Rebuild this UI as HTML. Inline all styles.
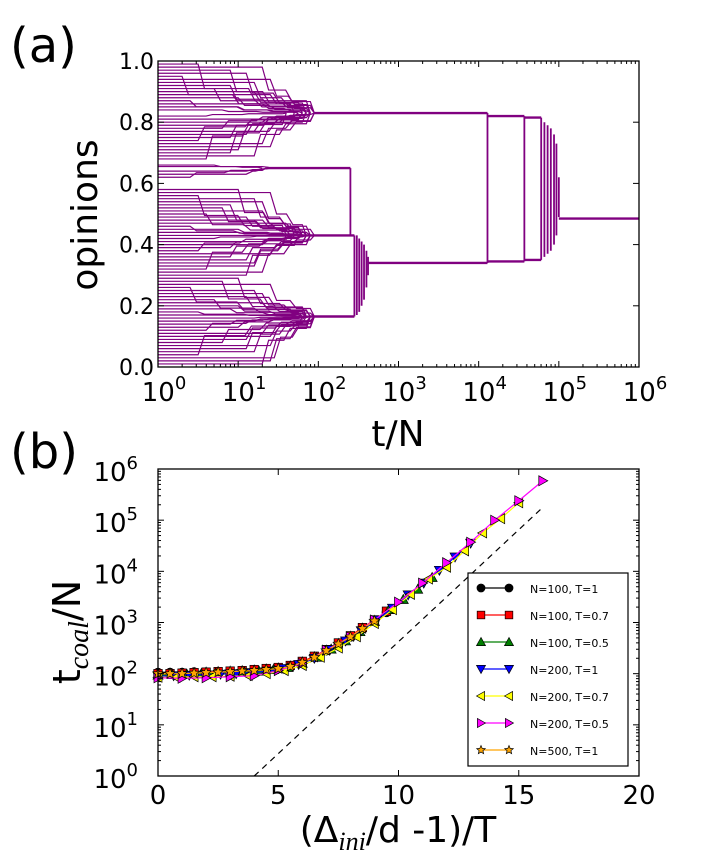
<!DOCTYPE html>
<html><head><meta charset="utf-8"><style>
html,body{margin:0;padding:0;background:#fff}
svg{display:block;font-family:"DejaVu Sans","Liberation Sans",sans-serif}
</style></head><body>
<svg id="fig" width="714" height="862" viewBox="0 0 714 862" xmlns="http://www.w3.org/2000/svg">
<text x="10" y="62" font-size="48">(a)</text>
<text x="10" y="468" font-size="48">(b)</text>
<g id="pa"></g>
<g id="pb"></g>
<text transform="translate(97,215) rotate(-90)" text-anchor="middle" font-size="36">opinions</text>
<text x="398" y="446" text-anchor="middle" font-size="36">t/N</text>
<text transform="translate(80,632) rotate(-90)" text-anchor="middle" font-size="38">t<tspan font-family="Liberation Serif,serif" font-style="italic" font-size="28" dy="8">coal</tspan><tspan dy="-8">/N</tspan></text>
<text x="398" y="842" text-anchor="middle" font-size="36">(Δ<tspan font-family="Liberation Serif,serif" font-style="italic" font-size="26" dy="8">ini</tspan><tspan dy="-8">/d -1)/T</tspan></text>
</svg>
<script>
// ---------- Panel (a) data ----------
const agentStart = [0.99,0.97,0.95,0.93,0.91,0.89,0.87,0.85,0.82,0.80,0.78,0.76,0.74,0.72,0.70,0.68,0.66,0.64,0.62,0.58,0.56,0.54,0.52,0.50,0.48,0.46,0.44,0.42,0.40,0.38,0.36,0.34,0.32,0.30,0.28,0.26,0.24,0.22,0.20,0.18,0.16,0.14,0.12,0.10,0.08,0.06,0.04,0.02,0.01,
  0.98,0.96,0.94,0.92,0.90,0.88,0.86,0.84,0.81,0.79,0.77,0.75,0.73,0.71,0.69,0.655,0.63,0.57,0.55,0.53,0.51,0.49,0.47,0.45,0.43,0.41,0.39,0.37,0.35,0.33,0.31,0.29,0.27,0.25,0.23,0.21,0.19,0.17,0.15,0.13,0.11,0.09,0.07,0.05,0.03,0.005];
const agentCluster = [0.83,0.83,0.83,0.83,0.83,0.83,0.83,0.83,0.83,0.83,0.83,0.83,0.83,0.83,0.83,0.83,0.65,0.65,0.65,0.43,0.43,0.43,0.43,0.43,0.43,0.43,0.43,0.43,0.43,0.43,0.43,0.43,0.43,0.43,0.165,0.165,0.165,0.165,0.165,0.165,0.165,0.165,0.165,0.165,0.165,0.165,0.165,0.165,0.165,
  0.83,0.83,0.83,0.83,0.83,0.83,0.83,0.83,0.83,0.83,0.83,0.83,0.83,0.83,0.83,0.65,0.65,0.43,0.43,0.43,0.43,0.43,0.43,0.43,0.43,0.43,0.43,0.43,0.43,0.43,0.43,0.165,0.165,0.165,0.165,0.165,0.165,0.165,0.165,0.165,0.165,0.165,0.165,0.165,0.165,0.165];
const agentHoldLog = [0.5,0.9,0.3,1.2,0.7,1.4,0.4,1.0,0.6,1.3,0.8,1.1,0.5,1.4,0.9,0.6,0.7,1.1,0.4,1.0,0.5,1.3,0.8,0.6,1.2,0.4,1.0,0.7,1.3,0.5,0.9,1.2,0.6,1.1,0.8,0.4,1.3,0.7,1.0,0.5,1.2,0.9,0.6,1.4,0.8,1.1,0.5,1.4,1.3,
  1.3,1.1,1.4,0.9,1.2,1.0,1.3,0.8,1.4,1.1,1.2,0.9,1.3,1.0,1.2,1.3,1.1,1.4,1.2,0.9,1.3,1.1,1.4,1.0,1.2,1.3,0.9,1.4,1.1,1.2,1.3,1.0,1.4,1.2,1.1,1.3,0.9,1.4,1.2,1.0,1.3,1.1,1.4,1.2,1.45];
const agentJoinLog = [1.9,1.8,1.7,1.95,1.85,1.9,1.7,1.8,1.6,1.9,1.75,1.85,1.8,1.95,1.7,1.6,1.3,1.4,1.35,1.7,1.6,1.8,1.75,1.65,1.8,1.6,1.75,1.7,1.8,1.65,1.7,1.85,1.6,1.75,1.85,1.7,1.9,1.8,1.85,1.75,1.9,1.8,1.7,1.95,1.85,1.9,1.8,1.95,1.9,
  1.95,1.85,1.9,1.8,1.95,1.85,1.9,1.75,1.95,1.85,1.9,1.8,1.95,1.85,1.9,1.4,1.35,1.85,1.9,1.8,1.95,1.85,1.9,1.8,1.95,1.85,1.8,1.95,1.9,1.85,1.9,1.85,1.95,1.9,1.85,1.95,1.8,1.95,1.9,1.85,1.95,1.9,1.95,1.9,1.95];
// cluster segments: [value, startLog, endLog]
const clusterSegs = [[0.83,1.95,4.11],[0.65,1.35,2.4],[0.43,1.75,2.45],[0.165,1.9,2.45],[0.34,2.62,4.11],[0.82,4.11,4.57],[0.345,4.11,4.57],[0.815,4.57,4.78],[0.35,4.57,4.78],[0.485,5.0,6.0]];
// vertical merges: [log t, top, bottom]
const mergeLines = [[2.4,0.65,0.43],[2.45,0.43,0.165],[2.48,0.43,0.17],[2.51,0.42,0.18],[2.54,0.41,0.2],[2.57,0.4,0.22],[2.6,0.38,0.26],[2.62,0.36,0.3],[4.11,0.83,0.34],[4.57,0.82,0.345],[4.78,0.815,0.35],[4.82,0.80,0.36],[4.86,0.79,0.37],[4.9,0.78,0.38],[4.94,0.76,0.4],[4.97,0.73,0.43],[5.0,0.62,0.49]];
const aYTicks = ["0.0","0.2","0.4","0.6","0.8","1.0"];
const aYVals = [0,0.2,0.4,0.6,0.8,1.0];
const aXDecades = [0,1,2,3,4,5,6];

// ---------- Panel (b) data ----------
const seriesNames = ["N=100, T=1","N=100, T=0.7","N=100, T=0.5","N=200, T=1","N=200, T=0.7","N=200, T=0.5","N=500, T=1"];
const seriesColors = ["#000000","#ff0000","#007f00","#0000ff","#ffff00","#ff00ff","#ffa500"];
const seriesMarkers = ["circle","square","tri-up","tri-down","tri-left","tri-right","star"];
const xBlack = [0,0.5,1,1.5,2,2.5,3,3.5,4,4.5,5,5.5,6,6.5,7,7.5,8,8.5,9,9.5];
const yBlack = [2.02,2.02,2.02,2.03,2.03,2.04,2.04,2.05,2.06,2.07,2.1,2.14,2.22,2.32,2.45,2.58,2.72,2.88,3.03,3.2];
const xRed = [0,0.5,1,1.5,2,2.5,3,3.5,4,4.5,5,5.5,6,6.5,7,7.5,8,8.5,9,9.5];
const yRed = [2.0,2.0,2.01,2.02,2.03,2.04,2.05,2.06,2.08,2.1,2.12,2.16,2.24,2.34,2.47,2.6,2.74,2.9,3.05,3.22];
const xGreen = [0,0.6,1.2,1.8,2.4,3,3.6,4.2,4.8,5.4,6,6.6,7.2,7.8,8.4,9,9.6,10.2,10.8,11.4];
const yGreen = [1.97,1.98,1.99,2.0,2.01,2.02,2.03,2.05,2.08,2.12,2.2,2.32,2.48,2.64,2.82,3.02,3.25,3.45,3.65,3.88];
const xBlue = [0,0.65,1.3,1.95,2.6,3.25,3.9,4.55,5.2,5.85,6.5,7.15,7.8,8.45,9.1,9.75,10.4,11.05,11.7,12.35,13];
const yBlue = [1.95,1.96,1.97,1.98,1.99,2.0,2.02,2.05,2.1,2.18,2.3,2.47,2.64,2.84,3.05,3.28,3.54,3.77,4.02,4.28,4.55];
const xYellow = [0,0.75,1.5,2.25,3,3.75,4.5,5.25,6,6.75,7.5,8.25,9,9.75,10.5,11.25,12,12.75,13.5,14.25,15];
const yYellow = [1.93,1.93,1.94,1.94,1.95,1.96,2.0,2.06,2.16,2.32,2.5,2.72,2.98,3.25,3.55,3.85,4.08,4.4,4.75,5.03,5.34];
const xPink = [0,1,2,3,4,5,6,7,8,9,10,11,12,13,14,15,16];
const yPink = [1.92,1.91,1.92,1.94,1.96,2.06,2.2,2.46,2.72,3.05,3.4,3.77,4.17,4.57,5.0,5.38,5.77];
const xOrange = [0,0.5,1,1.5,2,2.5,3,3.5,4,4.5,5,5.5,6,6.5,7,7.5,8,8.5,9];
const yOrange = [2.0,2.0,2.0,2.01,2.02,2.03,2.04,2.05,2.06,2.08,2.1,2.14,2.22,2.32,2.45,2.58,2.72,2.88,3.03];
const dashX = [4,16];
const dashY = [0,5.25];
const bXTicks = [0,5,10,15,20];
const bYDecades = [0,1,2,3,4,5,6];

const NS="http://www.w3.org/2000/svg";
function mk(parent,tag,attrs){const e=document.createElementNS(NS,tag);for(const k in attrs)e.setAttribute(k,attrs[k]);parent.appendChild(e);return e;}

// ---------- Panel (a) ----------
const pa=document.getElementById('pa');
const aL=158,aR=639,aT=61,aB=367;
const ax=l=>aL+(l/6)*(aR-aL);
const ay=v=>aB-v*(aB-aT);
const purple="#800080";
for(let i=0;i<agentStart.length;i++){
  const x0=agentStart[i],c=agentCluster[i],h=agentHoldLog[i],j=agentJoinLog[i];
  const mid=(x0+c)/2, m1=h+(j-h)*0.45;
  const d=`M${ax(0)},${ay(x0)} H${ax(h)} L${ax(h+0.08)},${ay(mid)} H${ax(m1)} L${ax(m1+0.08)},${ay((mid+c)/2)} H${ax(j-0.05)} L${ax(j)},${ay(c)}`;
  const p=mk(pa,'path',{d:d,fill:'none',stroke:purple,'stroke-width':1.2});
  
  
}
clusterSegs.forEach(s=>{
  const l=mk(pa,'line',{x1:ax(s[1]),x2:ax(s[2]),y1:ay(s[0]),y2:ay(s[0]),stroke:purple,'stroke-width':2.4});
  
  
});
mergeLines.forEach(s=>{
  const l=mk(pa,'line',{x1:ax(s[0]),x2:ax(s[0]),y1:ay(s[1]),y2:ay(s[2]),stroke:purple,'stroke-width':1.8});
  
  
});
const fa=mk(pa,'rect',{x:aL,y:aT,width:aR-aL,height:aB-aT,fill:'none',stroke:'#000','stroke-width':1.3});


aYVals.forEach((v,i)=>{
  const y=ay(v);
  mk(pa,'line',{x1:aL,x2:aL+6,y1:y,y2:y,stroke:'#000'});
  mk(pa,'line',{x1:aR,x2:aR-6,y1:y,y2:y,stroke:'#000'});
  const t=mk(pa,'text',{x:aL-4,y:y+8,'text-anchor':'end','font-size':22});
  t.textContent=aYTicks[i];
  
  
});
aXDecades.forEach(d=>{
  const x=ax(d);
  mk(pa,'line',{x1:x,x2:x,y1:aB,y2:aB-6,stroke:'#000'});
  mk(pa,'line',{x1:x,x2:x,y1:aT,y2:aT+6,stroke:'#000'});
  if(d<6){for(let k=2;k<10;k++){const xm=ax(d+Math.log10(k));
    mk(pa,'line',{x1:xm,x2:xm,y1:aB,y2:aB-3,stroke:'#000'});
    mk(pa,'line',{x1:xm,x2:xm,y1:aT,y2:aT+3,stroke:'#000'});}}
  const t=mk(pa,'text',{x:x+6,y:aB+34,'text-anchor':'middle','font-size':26});
  t.innerHTML=`10<tspan font-size="18" dy="-12">${d}</tspan>`;
  
  
});

// ---------- Panel (b) ----------
const pb=document.getElementById('pb');
const bL=158,bR=639,bT=469,bB=776;
const bx=v=>bL+(v/20)*(bR-bL);
const by=l=>bB-(l/6)*(bB-bT);
const dl=mk(pb,'line',{x1:bx(dashX[0]),y1:by(dashY[0]),x2:bx(dashX[1]),y2:by(dashY[1]),stroke:'#000','stroke-dasharray':'6,5','stroke-width':1.2});


function marker(g,type,x,y,col,s){
  let e;
  if(type==='circle')e=mk(g,'circle',{cx:x,cy:y,r:s*0.9});
  else if(type==='square')e=mk(g,'rect',{x:x-s*0.85,y:y-s*0.85,width:s*1.7,height:s*1.7});
  else{
    let pts;
    if(type==='tri-up')pts=[[0,-1],[-1,0.8],[1,0.8]];
    else if(type==='tri-down')pts=[[0,1],[-1,-0.8],[1,-0.8]];
    else if(type==='tri-left')pts=[[-1,0],[0.8,-1],[0.8,1]];
    else if(type==='tri-right')pts=[[1,0],[-0.8,-1],[-0.8,1]];
    else {pts=[];for(let k=0;k<10;k++){const a=-Math.PI/2+k*Math.PI/5,r=k%2?0.45:1;pts.push([r*Math.cos(a),r*Math.sin(a)]);}}
    e=mk(g,'polygon',{points:pts.map(p=>(x+p[0]*s)+','+(y+p[1]*s)).join(' ')});
  }
  e.setAttribute('fill',col);e.setAttribute('stroke','#000');e.setAttribute('stroke-width',0.7);
  return e;
}
const allX=[xBlack,xRed,xGreen,xBlue,xYellow,xPink,xOrange];
const allY=[yBlack,yRed,yGreen,yBlue,yYellow,yPink,yOrange];
allX.forEach((xs,si)=>{
  const g=mk(pb,'g',{});
  
  
  const ys=allY[si];
  mk(g,'polyline',{points:xs.map((x,i)=>bx(x)+','+by(ys[i])).join(' '),fill:'none',stroke:seriesColors[si],'stroke-width':1.2});
  xs.forEach((x,i)=>{
    const m=marker(g,seriesMarkers[si],bx(x),by(ys[i]),seriesColors[si],si===6?5.5:5);
    
    
  });
});
const fb=mk(pb,'rect',{x:bL,y:bT,width:bR-bL,height:bB-bT,fill:'none',stroke:'#000','stroke-width':1.3});


bXTicks.forEach(v=>{
  const x=bx(v);
  mk(pb,'line',{x1:x,x2:x,y1:bB,y2:bB-6,stroke:'#000'});
  mk(pb,'line',{x1:x,x2:x,y1:bT,y2:bT+6,stroke:'#000'});
  const t=mk(pb,'text',{x:x,y:bB+28,'text-anchor':'middle','font-size':26});
  t.textContent=v;
  
  
});
bYDecades.forEach(d=>{
  const y=by(d);
  mk(pb,'line',{x1:bL,x2:bL+6,y1:y,y2:y,stroke:'#000'});
  mk(pb,'line',{x1:bR,x2:bR-6,y1:y,y2:y,stroke:'#000'});
  if(d<6){for(let k=2;k<10;k++){const ym=by(d+Math.log10(k));
    mk(pb,'line',{x1:bL,x2:bL+3,y1:ym,y2:ym,stroke:'#000'});
    mk(pb,'line',{x1:bR,x2:bR-3,y1:ym,y2:ym,stroke:'#000'});}}
  const t=mk(pb,'text',{x:bL-20,y:y+12,'text-anchor':'end','font-size':26});
  t.innerHTML=`10<tspan font-size="18" dy="-12">${d}</tspan>`;
  
  
});
// legend
const lg=mk(pb,'g',{});


mk(lg,'rect',{x:468,y:573,width:160,height:193,fill:'#fff',stroke:'#000','stroke-width':1.2});
seriesNames.forEach((n,i)=>{
  const y=588+i*27;
  const e=mk(lg,'g',{});
  
  
  mk(e,'line',{x1:481,x2:509,y1:y,y2:y,stroke:seriesColors[i],'stroke-width':1.2});
  marker(e,seriesMarkers[i],481,y,seriesColors[i],4.5);
  marker(e,seriesMarkers[i],509,y,seriesColors[i],4.5);
  const t=mk(e,'text',{x:530,y:y+5,'font-size':11});
  t.textContent=n;
});
</script>
</body></html>
